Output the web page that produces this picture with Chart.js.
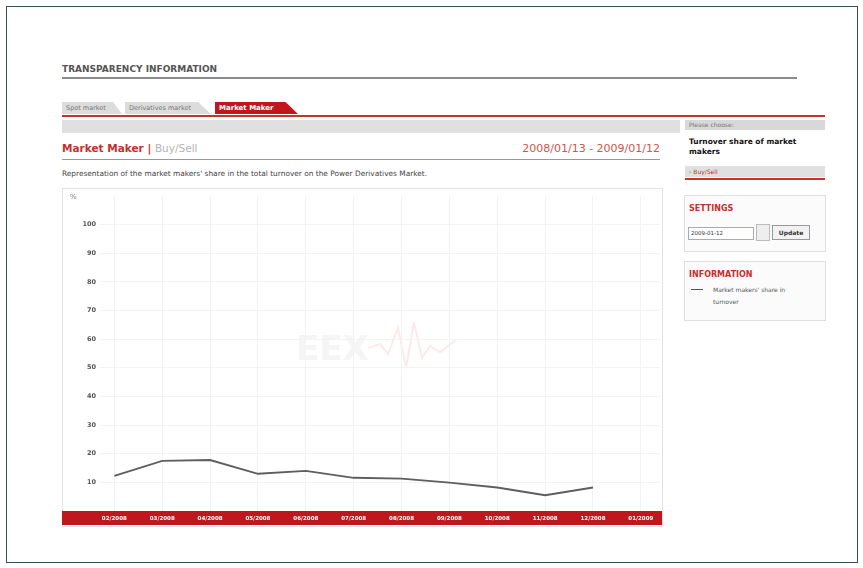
<!DOCTYPE html>
<html>
<head>
<meta charset="utf-8">
<title>Market Maker | Buy/Sell</title>
<script src="https://cdn.jsdelivr.net/npm/chart.js@4/dist/chart.umd.min.js"></script>
<style>
  html, body { margin: 0; padding: 0; background: #fff; }
  body { width: 863px; height: 568px; position: relative; overflow: hidden; font-family: "DejaVu Sans", Verdana, sans-serif; }
  .abs { position: absolute; }
  #frame { left: 6px; top: 6px; width: 850px; height: 555px; border: 1px solid #34505c; }
  #title { left: 62px; top: 64px; font-size: 9px; font-weight: bold; color: #555; }
  #titleLine { left: 62px; top: 77px; width: 735px; height: 2px; background: #8a8a8a; }
  .tab { top: 102px; height: 12px; font-size: 6.5px; line-height: 12px; padding-left: 4px; color: #777; background: #dcdcdc;
         clip-path: polygon(0 0, 85% 0, 100% 100%, 0 100%); }
  #tabRed { background: #c3161c; color: #fff; font-weight: bold; font-size: 7px; }
  #redLine { left: 62px; top: 115px; width: 763px; height: 2px; background: #c9332c; }
  #grayBand { left: 62px; top: 120px; width: 618px; height: 13px; background: #e0e0e0; }
  #heading { left: 62px; top: 142px; font-size: 10.5px; font-weight: bold; color: #c6302b; }
  #heading span { color: #b4b4b4; font-weight: normal; }
  #dates { left: 500px; top: 142px; width: 160px; text-align: right; font-size: 11px; color: #d0564a; }
  #headLine { left: 62px; top: 159px; width: 598px; height: 1px; background: #999; }
  #desc { left: 62px; top: 169px; font-size: 7.4px; color: #444; }
  #chartBox { left: 62px; top: 188px; width: 599px; height: 337px; border: 1px solid #e2e2e2; }
  #watermark { left: 296px; top: 328px; font-size: 34px; font-weight: bold; color: #f5f5f5; }
  #wave { left: 368px; top: 318px; }
  #chartWrap { left: 62px; top: 188px; }
  #pct { left: 70px; top: 193px; font-size: 7px; color: #777; }
  #sideHead { left: 685px; top: 120px; width: 136px; height: 10px; background: #d8d8d8; font-size: 6px; color: #777; padding-left: 4px; line-height: 10px; }
  #sideTitle { left: 689px; top: 137px; width: 122px; font-size: 7.5px; font-weight: bold; color: #111; line-height: 10px; }
  #sideSel { left: 685px; top: 166px; width: 136px; height: 11px; background: #e0e0e0; font-size: 6px; color: #c6302b; padding-left: 4px; line-height: 11px; }
  #sideLine { left: 685px; top: 178px; width: 140px; height: 2px; background: #c9332c; }
  .box { left: 684px; width: 140px; border: 1px solid #e0e0e0; background: #fbfbfb; }
  .boxTitle { position: absolute; left: 4px; font-size: 8px; font-weight: bold; color: #c6302b; }
  #settings { top: 195px; height: 55px; }
  #information { top: 261px; height: 58px; }
  #dateInput { left: 3px; top: 31px; width: 62px; height: 11px; border: 1px solid #aab; background: #fff; font-size: 5.5px; line-height: 11px; color: #333; padding-left: 2px; }
  #calIcon { left: 71px; top: 28px; width: 12px; height: 15px; border: 1px solid #bbb; background: #eee; }
  #updateBtn { left: 87px; top: 29px; width: 36px; height: 13px; border: 1px solid #999; background: #f2f2f2; font-size: 6px; font-weight: bold; line-height: 13px; text-align: center; color: #333; }
  #legLine { left: 6px; top: 27px; width: 12px; height: 1px; background: #555; }
  #legText { left: 28px; top: 22px; width: 95px; font-size: 6px; color: #555; line-height: 12px; }
</style>
</head>
<body>
<div id="frame" class="abs"></div>

<div id="title" class="abs">TRANSPARENCY INFORMATION</div>
<div id="titleLine" class="abs"></div>

<div class="abs tab" style="left:62px;width:56px;">Spot market</div>
<div class="abs tab" style="left:125px;width:82px;">Derivatives market</div>
<div id="tabRed" class="abs tab" style="left:215px;width:79px;">Market Maker</div>
<div id="redLine" class="abs"></div>
<div id="grayBand" class="abs"></div>

<div id="heading" class="abs">Market Maker | <span>Buy/Sell</span></div>
<div id="dates" class="abs">2008/01/13 - 2009/01/12</div>
<div id="headLine" class="abs"></div>
<div id="desc" class="abs">Representation of the market makers' share in the total turnover on the Power Derivatives Market.</div>

<div id="chartBox" class="abs"></div>
<div id="watermark" class="abs">EEX</div>
<svg id="wave" class="abs" width="95" height="70">
  <polyline points="0,30 12,26 20,36 30,10 38,50 46,4 54,40 62,28 72,34 88,22" fill="none" stroke="#fbeaec" stroke-width="2"/>
</svg>
<div id="chartWrap" class="abs"><canvas id="share" width="600" height="338"></canvas></div>
<div id="pct" class="abs">%</div>

<div id="sideHead" class="abs">Please choose:</div>
<div id="sideTitle" class="abs">Turnover share of market makers</div>
<div id="sideSel" class="abs">&#8250; Buy/Sell</div>
<div id="sideLine" class="abs"></div>

<div id="settings" class="abs box">
  <div class="boxTitle" style="top:8px;">SETTINGS</div>
  <div id="dateInput" class="abs">2009-01-12</div>
  <div id="calIcon" class="abs"></div>
  <div id="updateBtn" class="abs">Update</div>
</div>
<div id="information" class="abs box">
  <div class="boxTitle" style="top:8px;">INFORMATION</div>
  <div id="legLine" class="abs"></div>
  <div id="legText" class="abs">Market makers' share in turnover</div>
</div>

<script>
// Monatswerte: Anteil der Market Maker am Gesamtumsatz (%)
const months = ['02/2008', '03/2008', '04/2008', '05/2008', '06/2008', '07/2008',
                '08/2008', '09/2008', '10/2008', '11/2008', '12/2008', '01/2009'];
const share = [12.3, 17.5, 17.8, 13.0, 14.0, 11.6, 11.3, 9.9, 8.2, 5.5, 8.2];
const yTicks = [10, 20, 30, 40, 50, 60, 70, 80, 90, 100];

// roter Balken hinter der x-Achse
const axisBand = {
  id: 'axisBand',
  beforeDraw(chart) {
    const x = chart.scales.x;
    const ctx = chart.ctx;
    ctx.save();
    ctx.fillStyle = '#c0161d';
    ctx.fillRect(0, x.top, chart.width, x.bottom - x.top);
    ctx.restore();
  }
};

const ctx = document.getElementById('share').getContext('2d');
const chart = new Chart(ctx, {
  type: 'line',
  data: {
    datasets: [{
      label: "Market makers' share in turnover",
      data: share.map((v, i) => ({ x: i, y: v })),
      borderColor: '#5e5e5e',
      borderWidth: 1.8,
      pointRadius: 0,
      tension: 0,
      fill: false
    }]
  },
  options: {
    responsive: false,
    animation: false,
    devicePixelRatio: 1,
    layout: { padding: { top: 2, right: 2, left: 0, bottom: 1 } },
    plugins: { legend: { display: false }, tooltip: { enabled: false } },
    scales: {
      x: {
        type: 'linear',
        min: -0.3,
        max: 11.4,
        afterFit(scale) { scale.height = 14; },
        afterBuildTicks(scale) { scale.ticks = months.map((m, i) => ({ value: i })); },
        grid: { color: '#f3f3f3', drawTicks: false },
        border: { display: false },
        ticks: {
          autoSkip: false,
          maxRotation: 0,
          padding: 4,
          color: '#fff',
          font: { family: 'DejaVu Sans', size: 5.5, weight: 'bold' },
          callback: v => months[v] || ''
        }
      },
      y: {
        min: 0,
        max: 110,
        afterFit(scale) { scale.width = 38; },
        afterBuildTicks(scale) { scale.ticks = yTicks.map(v => ({ value: v })); },
        grid: { color: '#f3f3f3', drawTicks: false },
        border: { display: false },
        ticks: {
          padding: 4,
          color: '#555',
          font: { family: 'DejaVu Sans', size: 6.5, weight: 'bold' }
        }
      }
    }
  },
  plugins: [axisBand]
});
</script>
</body>
</html>
